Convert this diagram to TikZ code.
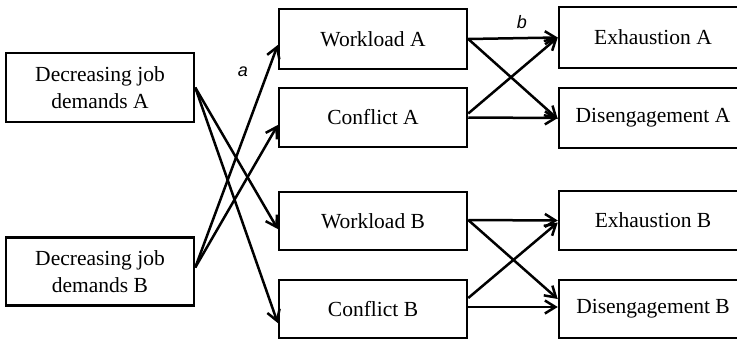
\documentclass[tikz,border=0pt]{standalone}
\usepackage{fontspec}
\setmainfont{Liberation Serif}
\newfontfamily\labelfont{Liberation Sans}
\usetikzlibrary{arrows.meta,calc}
\begin{document}
\begin{tikzpicture}[x=1pt,y=-1pt,
  box/.style={draw, line width=2.5pt, inner sep=0pt, align=center,
    minimum width=188pt, minimum height=59pt,
    font=\fontsize{21.5}{26.5}\selectfont},
  link/.style={line width=2.5pt, -{Straight Barb[length=10.5pt,width=13pt]}},
  coef/.style={font=\labelfont\itshape\fontsize{18}{20}\selectfont, inner sep=0pt}]
\clip (0,0) rectangle (737,340);
% predictors
\node[box, minimum height=69pt] (dA) at (100,87.5) {Decreasing job\\demands A};
\node[box, minimum height=68pt] (dB) at (100,271.5) {Decreasing job\\demands B};
% mediators
\node[box, minimum height=60pt] (wlA) at (373,39) {Workload A};
\node[box] (cfA) at (373,117.5) {Conflict A};
\node[box, minimum height=58pt] (wlB) at (373,221) {Workload B};
\node[box, minimum height=58pt] (cfB) at (373,309) {Conflict B};
% outcomes
\node[box, minimum height=61pt] (exA) at (653,37.5) {Exhaustion A};
\node[box, minimum height=60pt] (dgA) at (653,118) {Disengagement A};
\node[box, minimum height=59pt] (exB) at (653,220.5) {Exhaustion B};
\node[box, minimum height=58pt] (dgB) at (653,309) {Disengagement B};
% predictors to mediators
\draw[link] (dA.east) -- ([yshift=-8pt]wlB.west);
\draw[link] (dA.east) -- ([yshift=-14pt]cfB.west);
\draw[link] ([yshift=4pt]dB.east) -- ([yshift=-6pt]wlA.west);
\draw[link] ([yshift=4pt]dB.east) -- ([yshift=-7.5pt]cfA.west);
% mediators to outcomes, set A
\draw[link] (wlA.east) -- (exA.west);
\draw[link] (wlA.east) -- ([yshift=-1pt]dgA.west);
\draw[link] ([yshift=4pt]cfA.east) -- (exA.west);
\draw[link] (cfA.east) -- (dgA.west);
% mediators to outcomes, set B
\draw[link] ([yshift=1pt]wlB.east) -- (exB.west);
\draw[link] ([yshift=1pt]wlB.east) -- ([yshift=10pt]dgB.west);
\draw[link] ([yshift=11pt]cfB.east) -- ([yshift=-2pt]exB.west);
\draw[link] ([yshift=2pt]cfB.east) -- ([yshift=2pt]dgB.west);
% path coefficients
\node[coef] (la) at (243,72) {a};
\node[coef] (lb) at (522,22) {b};
\end{tikzpicture}
\end{document}
